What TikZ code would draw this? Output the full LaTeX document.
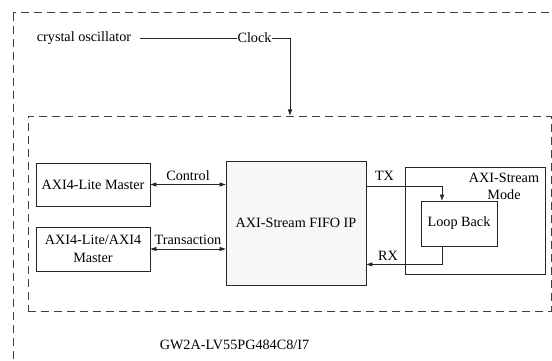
\documentclass[tikz,border=0pt]{standalone}
\usepackage{fontspec}
\setmainfont{Liberation Serif}
\usepackage{tikz}
\usetikzlibrary{arrows.meta}

\begin{document}
\begin{tikzpicture}[x=1pt, y=-1pt,
	font=\fontsize{14.2}{17.5}\selectfont,
	>={Triangle[length=6pt,width=4pt]},
	block/.style={shape=rectangle, draw=black!85, line width=0.8pt, align=center, inner sep=0pt},
	zone/.style={draw=black!75, line width=1pt, dash pattern=on 8pt off 5pt},
	wire/.style={draw=black!85, line width=0.7pt},
	tag/.style={inner sep=0pt}]

	\useasboundingbox (0,0) rectangle (552,361);
	\clip (0,0) rectangle (552,361);

	% chip outline and IP region
	\draw[zone] (13,13) rectangle (580,390);
	\node[zone, shape=rectangle, minimum width=523pt, minimum height=195pt] (ipzone) at (289.5, 213.5) {};
	\node[tag] (chip) at (234.5, 345) {GW2A-LV55PG484C8/I7};

	\node[tag] (osc) at (84, 38) {crystal oscillator};
	\node[tag] (clk) at (254.5, 38) {Clock};
	\coordinate (clkbend) at (290, 38);

	\node[block, minimum width=114pt, minimum height=43pt] (lite) at (93, 184.5) {AXI4-Lite Master};
	\node[block, minimum width=114pt, minimum height=44pt] (full) at (93, 249) {AXI4-Lite/AXI4\\Master};
	\node[block, fill=black!3, minimum width=140pt, minimum height=124pt] (fifo) at (296, 223) {AXI-Stream FIFO IP};
	\node[block, minimum width=140pt, minimum height=107pt] (mode) at (475, 220.5) {};
	\node[tag, align=center] (modetxt) at (504, 186.5) {AXI-Stream\\Mode};
	\node[block, minimum width=76pt, minimum height=45pt] (loop) at (459, 223.5) {Loop Back};

	\path[wire] ([xshift=9pt]osc.east) edge (clk.west);
	\draw[wire, ->] (clk.east) -- (clkbend) -- (clkbend |- ipzone.north);

	\draw[wire, <->] (lite.east) -- node[above=4pt, tag] {Control} (lite.east -| fifo.west);
	\draw[wire, <->] (full.east) -- node[above=4pt, tag] {Transaction} (full.east -| fifo.west);

	% loop back path
	\draw[wire, ->] ([yshift=-26pt]fifo.north east) -| ([xshift=-17pt]loop.north);
	\draw[wire, ->] ([xshift=-17pt]loop.south) |- ([yshift=21pt]fifo.south east);
	\node[tag] (tx) at (384.5, 176) {TX};
	\node[tag] (rx) at (388, 256) {RX};

\end{tikzpicture}
\end{document}
